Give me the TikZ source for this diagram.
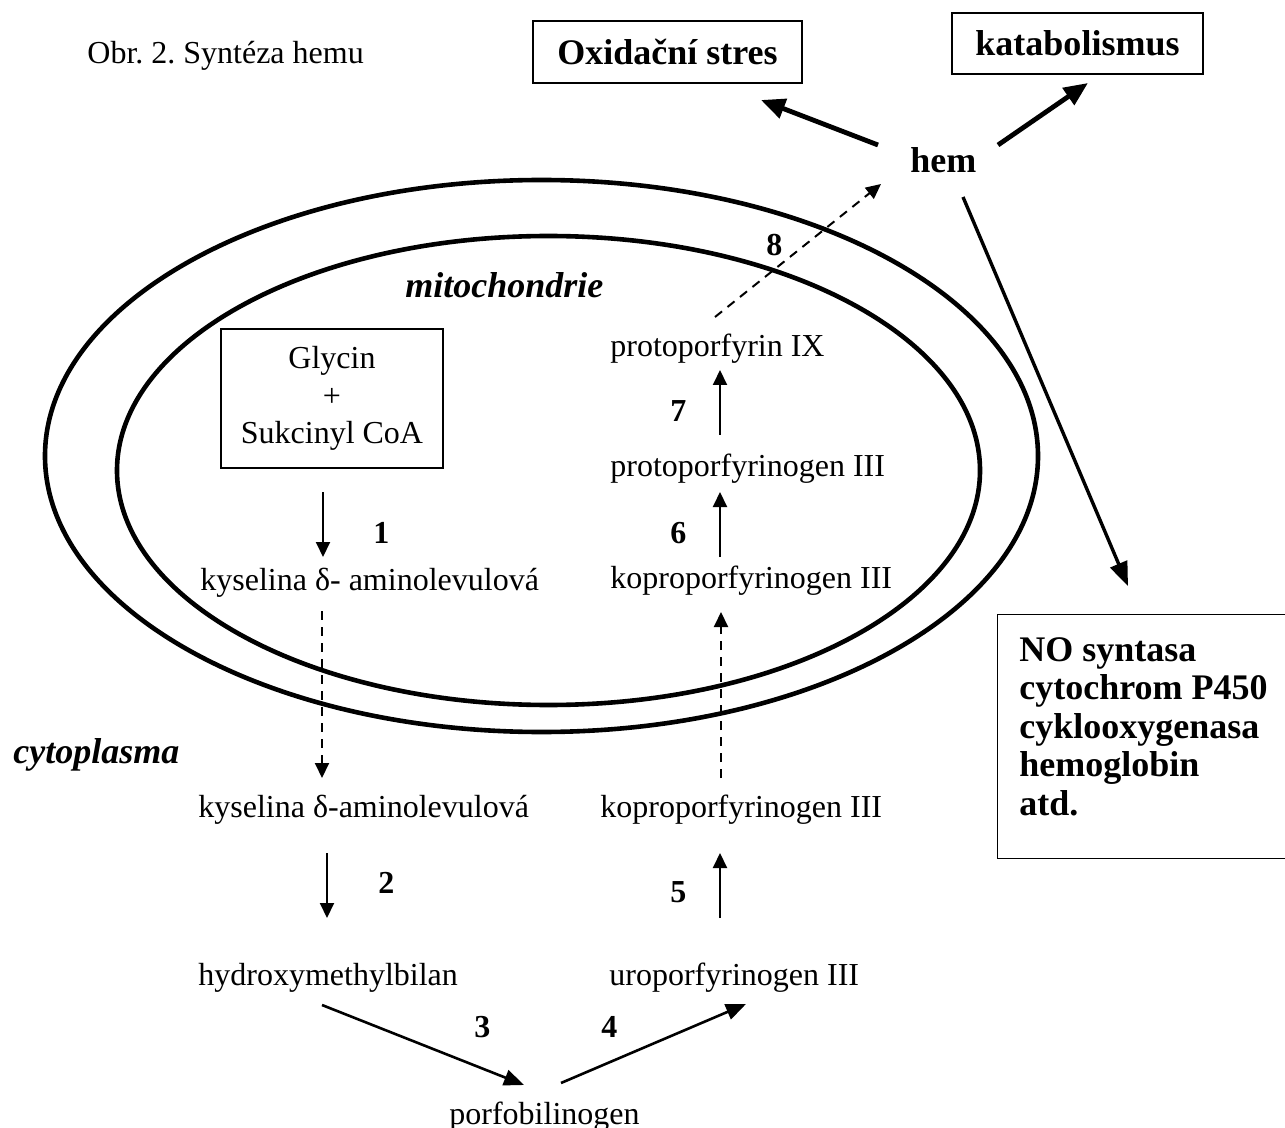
\documentclass[tikz,border=0pt]{standalone}
\usepackage{fontspec}
\setmainfont{Liberation Serif}
\usetikzlibrary{arrows.meta}
\frenchspacing
\begin{document}
\begin{tikzpicture}[x=0.5pt,y=-0.5pt,
  txt/.style={inner sep=0pt, anchor=base west, font=\fontsize{16}{19}\selectfont},
  btxt/.style={inner sep=0pt, anchor=base west, font=\fontsize{18}{21}\selectfont\bfseries},
  num/.style={inner sep=0pt, anchor=base west, font=\fontsize{16}{19}\selectfont\bfseries},
  region/.style={inner sep=0pt, anchor=base west, font=\fontsize{18}{21}\selectfont\bfseries\itshape},
  membrane/.style={line width=2.3pt},
  thinbox/.style={draw, line width=0.6pt, inner sep=0pt},
  arr/.style={line width=1pt, -{Triangle[length=7.5pt,width=7pt]}},
  darr/.style={line width=1pt, dash pattern=on 4.5pt off 3.5pt, -{Triangle[length=7.5pt,width=7pt]}},
  midarr/.style={line width=1.3pt, -{Triangle[length=10pt,width=8pt]}},
  bigarr/.style={line width=2.4pt, -{Triangle[length=12pt,width=10pt]}},
  noarr/.style={line width=1.7pt, -{Triangle[length=12pt,width=9pt]}}
]
\useasboundingbox (0,0) rectangle (1285,1128);

% membranes
\draw[membrane] (541.5,456) ellipse [x radius=248.25pt, y radius=138pt];
\draw[membrane] (548.5,470.5) ellipse [x radius=215.75pt, y radius=117.25pt];

% caption
\node[txt] (cap) at (87,64) {Obr. 2. Syntéza hemu};

% top boxes
\node[thinbox, minimum width=134.5pt, minimum height=31pt, font=\fontsize{18}{21}\selectfont\bfseries] (ox) at (667.5,52) {Oxidační stres};
\node[thinbox, minimum width=125.5pt, minimum height=30.5pt, font=\fontsize{18}{21}\selectfont\bfseries] (kat) at (1077.5,43.5) {katabolismus};
\node[btxt] (hem) at (910,173) {hem};

% region labels
\node[region] (mito) at (405,298) {mitochondrie};
\node[region] (cyto) at (13,763) {cytoplasma};

% Glycin box
\node[thinbox, minimum width=111pt, minimum height=69.5pt, align=center,
  font=\fontsize{16}{18.75}\selectfont] (gly) at (332,398.5) {Glycin\\+\\Sukcinyl CoA};

% metabolites
\node[txt] (ala1) at (200,590) {kyselina δ- aminolevulová};
\node[txt] (ala2) at (198,817) {kyselina δ-aminolevulová};
\node[txt] (hmb) at (198,985) {hydroxymethylbilan};
\node[txt] (pbg) at (449,1124) {porfobilinogen};
\node[txt] (uro) at (609,985) {uroporfyrinogen III};
\node[txt] (kop2) at (600,817) {koproporfyrinogen III};
\node[txt] (kop1) at (610,588) {koproporfyrinogen III};
\node[txt] (ppg) at (610,477) {protoporfyrinogen III};
\node[txt] (ppix) at (610,357) {protoporfyrin IX};

% step numbers
\node[num] (n1) at (373,543) {1};
\node[num] (n2) at (378,893) {2};
\node[num] (n3) at (474,1037) {3};
\node[num] (n4) at (601,1037) {4};
\node[num] (n5) at (670,902) {5};
\node[num] (n6) at (670,543) {6};
\node[num] (n7) at (670,422) {7};
\node[num] (n8) at (766,256) {8};

% NO box
\node[thinbox, minimum width=144pt, minimum height=122pt, anchor=north west] (nobox) at (997,614) {};
\node[inner sep=0pt, anchor=north west, align=left,
  font=\fontsize{18}{19.25}\selectfont\bfseries] (notext) at (1019,637)
  {NO syntasa\\cytochrom P450\\cyklooxygenasa\\hemoglobin\\atd.};

% arrow end points
\coordinate (a1s) at (323,492); \coordinate (a1e) at (323,557);
\coordinate (d1s) at (322,611); \coordinate (d1e) at (322,778);
\coordinate (a2s) at (327,853); \coordinate (a2e) at (327,918);
\coordinate (a3s) at (322,1005); \coordinate (a3e) at (524,1085);
\coordinate (a4s) at (561,1083); \coordinate (a4e) at (746,1004);
\coordinate (a5s) at (720,918); \coordinate (a5e) at (720,853);
\coordinate (d2s) at (721,778); \coordinate (d2e) at (721,612);
\coordinate (a6s) at (720,557); \coordinate (a6e) at (720,492);
\coordinate (a7s) at (720,435); \coordinate (a7e) at (720,370);
\coordinate (d8s) at (715,317); \coordinate (d8e) at (881,184);
\coordinate (hox) at (878,145); \coordinate (oxe) at (761,100);
\coordinate (hka) at (998,145); \coordinate (kae) at (1088,83);
\coordinate (hno) at (963,197); \coordinate (noe) at (1128,586);

% connectors
\draw[arr] (a1s) -- (a1e);
\draw[darr] (d1s) -- (d1e);
\draw[arr] (a2s) -- (a2e);
\draw[midarr] (a3s) -- (a3e);
\draw[midarr] (a4s) -- (a4e);
\draw[arr] (a5s) -- (a5e);
\draw[darr] (d2s) -- (d2e);
\draw[arr] (a6s) -- (a6e);
\draw[arr] (a7s) -- (a7e);
\draw[darr] (d8s) -- (d8e);
\draw[bigarr] (hox) -- (oxe);
\draw[bigarr] (hka) -- (kae);
\draw[noarr] (hno) -- (noe);
\end{tikzpicture}
\end{document}
